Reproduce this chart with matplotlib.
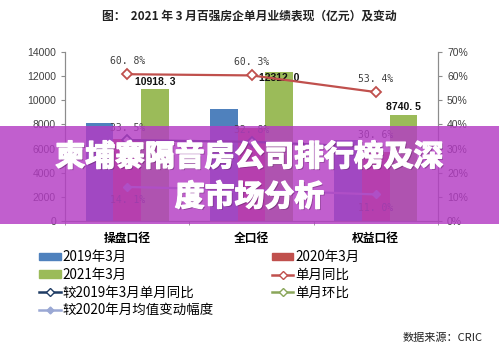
import numpy as np
import matplotlib.pyplot as plt
from matplotlib.lines import Line2D
from matplotlib.patches import Patch, Rectangle
import matplotlib.patheffects as pe

plt.rcParams['font.family'] = ['Noto Sans CJK SC', 'DejaVu Sans']

# data
categories = ['操盘口径', '全口径', '权益口径']
sales_2019 = [8150, 9250, 6700]
sales_2020 = [6800, 7730, 5740]
sales_2021 = [10918.3, 12312.0, 8740.5]
yoy = [60.8, 60.3, 53.4]            # 单月同比
vs_2019 = [33.5, 32.8, 30.6]        # 较2019年3月单月同比
vs_2020_avg = [14.1, 12.9, 11.0]    # 较2020年月均值变动幅度

c_blue = '#4f81bd'
c_red = '#c0504d'
c_green = '#9bbb59'
c_navy = '#1f3c64'
c_lav = '#9aa8d4'
c_axis = '#8c8c8c'

fig = plt.figure(figsize=(4.99, 3.51), dpi=100)
ax = fig.add_axes([65 / 499, 1 - 221 / 351, 373 / 499, 169 / 351])
ax2 = ax.twinx()

x = np.arange(len(categories))
w = 0.222
ax.bar(x - w, sales_2019, w, color=c_blue, zorder=2)
ax.bar(x, sales_2020, w, color=c_red, zorder=2)
ax.bar(x + w, sales_2021, w, color=c_green, zorder=2)
# label offsets in points (the middle one sits on the bar top, under the line label)
bar_lab_dy = [5, -4, 6]
for xi, v, dy in zip(x, sales_2021, bar_lab_dy):
    ax.annotate(f'{v:.1f}'.replace('.', '. '), (xi + w, v), xytext=(0, dy),
                textcoords='offset points', ha='center', va='center',
                fontsize=7.5, fontweight='bold', family='Liberation Sans', color='#111111', zorder=4)

ax.set_xlim(-0.5, 2.5)
ax.set_ylim(0, 14000)
ax.set_yticks(range(0, 14001, 2000))
ax.set_xticks(x)
ax.set_xticklabels(categories, fontsize=8.5, fontweight='bold')
ax.set_xticks([-0.5, 0.5, 1.5, 2.5], minor=True)
ax.tick_params(axis='x', which='major', length=0, pad=8)
ax.tick_params(axis='x', which='minor', length=3, color=c_axis)
ax.tick_params(axis='y', length=3, color=c_axis, labelsize=7.5, labelcolor='#404040')
for t in ax.get_yticklabels():
    t.set_family('Liberation Sans')

ax2.set_ylim(0, 0.70)
ax2.set_yticks(np.arange(0, 0.71, 0.1))
ax2.set_yticklabels([f'{int(round(t * 100))}%' for t in np.arange(0, 0.71, 0.1)],
                    family='Liberation Sans')
ax2.tick_params(axis='y', length=3, color=c_axis, labelsize=7.5, labelcolor='#404040')

for a in (ax, ax2):
    a.spines['top'].set_visible(False)
    for s in ('left', 'right', 'bottom'):
        a.spines[s].set_color(c_axis)
        a.spines[s].set_linewidth(0.8)

pct = lambda v: [t / 100 for t in v]
ax2.plot(x, pct(yoy), color=c_red, lw=1.6, marker='D', ms=5, mfc='white', mec=c_red, mew=1.3, zorder=3)
ax2.plot(x, pct(vs_2019), color=c_navy, lw=1.6, marker='D', ms=5, mfc='white', mec=c_navy, mew=1.3, zorder=3)
ax2.plot(x, pct(vs_2020_avg), color=c_lav, lw=1.6, marker='D', ms=4, mfc=c_lav, mec=c_lav, zorder=3)

def lab(vals, dy, va, skip=()):
    for i, (xi, v) in enumerate(zip(x, vals)):
        if i in skip:
            continue
        ax2.annotate(f'{v:.1f}%'.replace('.', '. '), (xi, v / 100), xytext=(0, dy),
                     textcoords='offset points', ha='center', va=va,
                     fontsize=7, family='DejaVu Sans Mono', color='#404040')

lab(yoy, 6, 'bottom')
lab(vs_2019, 5, 'bottom')
lab(vs_2020_avg, -6, 'top', skip=(1,))   # middle label is hidden behind the headline

fig.text(0.5, 1 - 16 / 351, '图：  2021 年 3 月百强房企单月业绩表现（亿元）及变动',
         ha='center', va='center', fontsize=8.5, fontweight='bold', color='#222222')
fig.text(483 / 499, 1 - 338 / 351, '数据来源：CRIC', ha='right', va='center',
         fontsize=8, color='#222222')

handles = [
    Patch(color=c_blue, label='2019年3月'),
    Patch(color=c_green, label='2021年3月'),
    Line2D([], [], color=c_navy, lw=1.8, marker='D', ms=4, mfc='white', mec=c_navy, label='较2019年3月单月同比'),
    Line2D([], [], color=c_lav, lw=1.8, marker='D', ms=3.5, mfc=c_lav, mec=c_lav, label='较2020年月均值变动幅度'),
    Patch(color=c_red, label='2020年3月'),
    Line2D([], [], color=c_red, lw=1.8, marker='D', ms=4, mfc='white', mec=c_red, label='单月同比'),
    Line2D([], [], color='#8aa65a', lw=1.8, marker='D', ms=4, mfc='white', mec='#8aa65a', label='单月环比'),
]
fig.legend(handles=handles, ncol=2, loc='upper left', bbox_to_anchor=(39 / 499, 1 - 250 / 351),
           frameon=False, fontsize=9.7, handlelength=1.6, handleheight=0.45, handletextpad=0.15,
           labelspacing=0.28, columnspacing=4.3, borderpad=0, borderaxespad=0)

# purple banner with headline
fig.patches.append(Rectangle((0, 1 - 224 / 351), 1, 98 / 351, transform=fig.transFigure,
                             facecolor='#b43cc4', alpha=0.82, zorder=10, edgecolor='none'))
fx = [pe.withSimplePatchShadow(offset=(1, -1), shadow_rgbFace='#5a2060', alpha=0.5),
      pe.Stroke(linewidth=1.0, foreground='white'), pe.Normal()]
fig.text(0.5, 1 - 157 / 351, '柬埔寨隔音房公司排行榜及深', ha='center', va='center',
         fontsize=21.5, fontweight='bold', color='white', zorder=11, path_effects=fx)
fig.text(0.5, 1 - 197 / 351, '度市场分析', ha='center', va='center',
         fontsize=21.5, fontweight='bold', color='white', zorder=11, path_effects=fx)

fig.savefig('out.png', dpi=100)
